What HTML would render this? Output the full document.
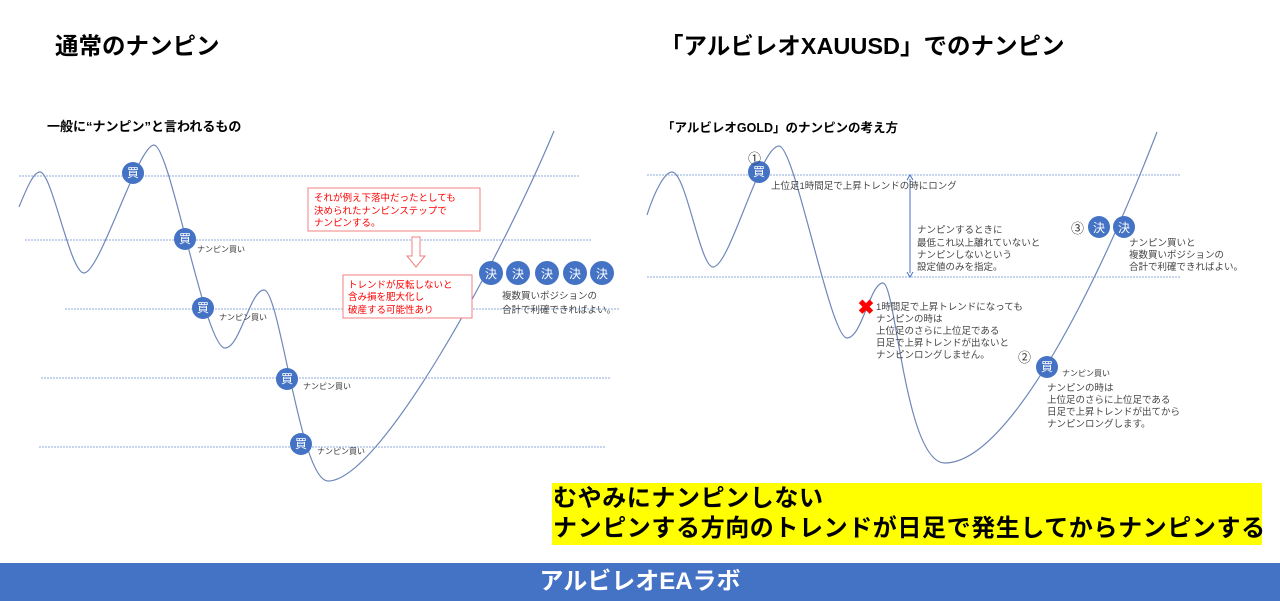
<!DOCTYPE html>
<html><head><meta charset="utf-8"><style>
body{margin:0;width:1280px;height:601px;background:#fff;position:relative;overflow:hidden;font-family:"Liberation Sans","Noto Sans CJK JP",sans-serif}
.t{position:absolute;white-space:nowrap}
.yb{position:absolute;left:552px;top:483px;width:710px;height:62px;background:#ffff00}
.foot{position:absolute;left:0;top:563px;width:1280px;height:38px;background:#4472c4;color:#fff;font-weight:bold;font-size:24px;text-align:center;line-height:38px}
</style></head><body>
<div class="t" style="left:55px;top:27px;font-size:23.5px;font-weight:bold">通常のナンピン</div>
<div class="t" style="left:660px;top:27px;font-size:23.5px;font-weight:bold">「アルビレオXAUUSD」でのナンピン</div>
<div class="t" style="left:47px;top:116px;font-size:13px;font-weight:bold">一般に“ナンピン”と言われるもの</div>
<div class="t" style="left:662px;top:117px;font-size:12.5px;font-weight:bold">「アルビレオGOLD」のナンピンの考え方</div>
<div class="yb"></div>
<div class="t" style="left:553px;top:484px;font-size:24px;letter-spacing:0.6px;font-weight:bold;line-height:30px">むやみにナンピンしない<br>ナンピンする方向のトレンドが日足で発生してからナンピンする</div>
<div class="foot">アルビレオEAラボ</div>
<svg width="1280" height="601" style="position:absolute;left:0;top:0" font-family="Liberation Sans, Noto Sans CJK JP, sans-serif">
<g stroke="#8faadc" stroke-width="1" stroke-dasharray="2,1">
<line x1="19" y1="176" x2="579" y2="176"/><line x1="25" y1="240" x2="592" y2="240"/><line x1="65" y1="309" x2="620" y2="309"/><line x1="41" y1="378" x2="610" y2="378"/><line x1="39" y1="447" x2="606" y2="447"/>
<line x1="647" y1="175" x2="1181" y2="175"/><line x1="647" y1="277" x2="1181" y2="277"/>
</g>
<g fill="none" stroke="#6f87b9" stroke-width="1.2">
<path d="M19,207 C28,185 34,172 40,172 C52,172 70,273 84,273 C100,273 138,145 154,145 C170,145 205,348 225,348 C240,348 250,290 264,290 C280,290 300,481 328,481 C380,481 500,260 554,131"/>
<path d="M647,215 C655,190 665,172 672,172 C686,172 700,267 713,267 C730,267 760,146 779,146 C795,146 830,338 847,338 C862,338 870,283 883,283 C896,283 905,463 945,463 C1010,463 1100,280 1157,132"/>
</g>
<line x1="910" y1="179" x2="910" y2="273" stroke="#4472c4"/>
<path d="M907,180 L910,175 L913,180 M907,272 L910,277 L913,272" fill="none" stroke="#4472c4"/>
<g fill="#4472c4">
<circle cx="133" cy="173" r="11"/><circle cx="185" cy="239" r="11"/><circle cx="203" cy="308" r="11"/><circle cx="287" cy="379" r="11"/><circle cx="301" cy="444" r="11"/>
<circle cx="491" cy="273" r="12"/><circle cx="518" cy="273" r="12"/><circle cx="547" cy="273" r="12"/><circle cx="575" cy="273" r="12"/><circle cx="602" cy="273" r="12"/>
<circle cx="759" cy="172" r="11"/><circle cx="1047" cy="367" r="11"/><circle cx="1099" cy="227" r="11"/><circle cx="1124" cy="227" r="11"/>
</g>
<g fill="#fff" font-size="12" text-anchor="middle">
<text x="133" y="177">買</text><text x="185" y="243">買</text><text x="203" y="312">買</text><text x="287" y="383">買</text><text x="301" y="448">買</text>
<text x="491" y="278">決</text><text x="518" y="278">決</text><text x="547" y="278">決</text><text x="575" y="278">決</text><text x="602" y="278">決</text>
<text x="759" y="176">買</text><text x="1047" y="371">買</text><text x="1099" y="232">決</text><text x="1124" y="232">決</text>
</g>
<g font-size="8" fill="#333">
<text x="197" y="252">ナンピン買い</text><text x="219" y="320">ナンピン買い</text><text x="303" y="389">ナンピン買い</text><text x="317" y="454">ナンピン買い</text>
<text x="1062" y="376">ナンピン買い</text>
</g>
<g font-size="9.5" fill="#444">
<text x="502" y="299">複数買いポジションの</text><text x="502" y="313">合計で利確できればよい。</text>
<text x="771" y="189">上位足1時間足で上昇トレンドの時にロング</text>
<text x="917" y="233">ナンピンするときに</text><text x="917" y="246">最低これ以上離れていないと</text><text x="917" y="258">ナンピンしないという</text><text x="917" y="270">設定値のみを指定。</text>
<text x="876" y="310">1時間足で上昇トレンドになっても</text><text x="876" y="322">ナンピンの時は</text><text x="876" y="334">上位足のさらに上位足である</text><text x="876" y="346">日足で上昇トレンドが出ないと</text><text x="876" y="358">ナンピンロングしません。</text>
<text x="1047" y="391">ナンピンの時は</text><text x="1047" y="403">上位足のさらに上位足である</text><text x="1047" y="415">日足で上昇トレンドが出てから</text><text x="1047" y="427">ナンピンロングします。</text>
<text x="1129" y="246">ナンピン買いと</text><text x="1129" y="258">複数買いポジションの</text><text x="1129" y="270">合計で利確できればよい。</text>
</g>
<g font-size="13" fill="#333"><text x="748" y="163">①</text><text x="1018" y="362">②</text><text x="1071" y="233">③</text></g>
<text x="866" y="314" font-size="20" fill="#f00" text-anchor="middle" font-weight="bold">✖</text>
<rect x="308" y="188" width="172" height="43" fill="#fff" stroke="#f08080"/>
<g font-size="9.5" fill="#f00"><text x="314" y="201">それが例え下落中だったとしても</text><text x="314" y="214">決められたナンピンステップで</text><text x="314" y="226">ナンピンする。</text></g>
<path d="M412,237 L420,237 L420,256 L425,256 L416,267 L407,256 L412,256 Z" fill="#fff" stroke="#f08080"/>
<rect x="343" y="275" width="129" height="43" fill="#fff" stroke="#f08080"/>
<g font-size="9.5" fill="#f00"><text x="348" y="288">トレンドが反転しないと</text><text x="348" y="300">含み損を肥大化し</text><text x="348" y="313">破産する可能性あり</text></g>
</svg>
</body></html>
